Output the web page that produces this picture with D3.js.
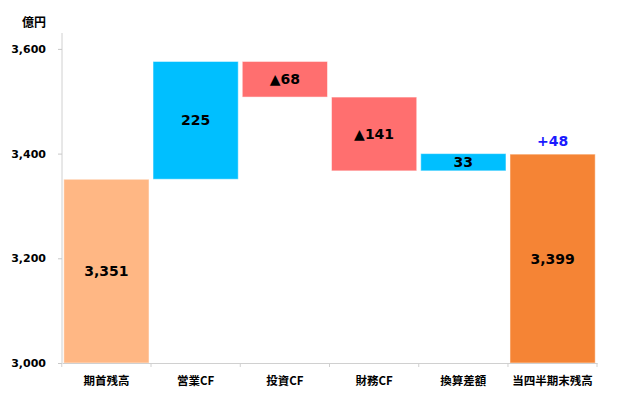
<!DOCTYPE html>
<html>
<head>
<meta charset="utf-8">
<script src="https://cdn.jsdelivr.net/npm/d3@7"></script>
<style>
body { margin: 0; background: #fff; }
svg { font-family: "DejaVu Sans", "Noto Sans CJK JP", sans-serif; }
</style>
</head>
<body>
<svg id="chart" width="617" height="403"></svg>
<script>
// waterfall data
const categories = ["期首残高", "営業CF", "投資CF", "財務CF", "換算差額", "当四半期末残高"];
const starts = [3000, 3351, 3576, 3508, 3367, 3000];
const ends = [3351, 3576, 3508, 3367, 3400, 3399];
const labels = ["3,351", "225", "▲68", "▲141", "33", "3,399"];
const colors = ["#FFB784", "#00BFFF", "#FF6F6F", "#FF6F6F", "#00BFFF", "#F58435"];
const yTicks = [3000, 3200, 3400, 3600];
const diffLabel = "+48";

let margin = {top: 30, right: 20, bottom: 40, left: 62};
let width = 617, height = 403;
let svg = d3.select("#chart");

let x = d3.scaleBand()
	.domain(categories)
	.range([margin.left, width - margin.right])
	.paddingInner(0.045)
	.paddingOuter(0.02);
let y = d3.scaleLinear()
	.domain([3000, 3660])
	.range([363, 363 - 660 * 0.5235]);

// y axis
let yAxis = svg.append("g")
	.attr("transform", `translate(${margin.left},0)`)
	.call(d3.axisLeft(y).tickValues(yTicks).tickSize(4).tickPadding(12).tickFormat(d3.format(",")))
	.attr("font-family", "DejaVu Sans");
yAxis.select(".domain").attr("stroke", "#d0d0d0").attr("d", `M0,${y(3000)}V33`);
yAxis.selectAll(".tick line").attr("stroke", "#c8c8c8");
yAxis.selectAll(".tick text")
	.attr("font-size", 11).attr("font-weight", "bold").attr("fill", "#000");

svg.append("text")
	.attr("x", 46).attr("y", 27)
	.attr("text-anchor", "end")
	.attr("font-family", "Noto Sans CJK JP")
	.attr("font-size", 12).attr("font-weight", "bold")
	.text("億円");

// bars
svg.append("g")
	.selectAll("rect")
	.data(categories)
	.join("rect")
	.attr("x", d => x(d))
	.attr("width", x.bandwidth())
	.attr("y", (d, i) => y(Math.max(starts[i], ends[i])))
	.attr("height", (d, i) => Math.abs(y(starts[i]) - y(ends[i])))
	.attr("fill", (d, i) => colors[i])
	.attr("stroke", "#fff")
	.attr("stroke-opacity", 0.5)
	.attr("stroke-width", 1);

// values
svg.append("g")
	.selectAll("text")
	.data(categories)
	.join("text")
	.attr("x", d => x(d) + x.bandwidth() / 2)
	.attr("y", (d, i) => (y(starts[i]) + y(ends[i])) / 2)
	.attr("dy", "0.36em")
	.attr("text-anchor", "middle")
	.attr("font-size", 14).attr("font-weight", "bold")
	.text((d, i) => labels[i]);

svg.append("text")
	.attr("x", x(categories[5]) + x.bandwidth() / 2)
	.attr("y", y(3400) - 8)
	.attr("text-anchor", "middle")
	.attr("font-size", 14).attr("font-weight", "bold")
	.attr("fill", "#1a1aff")
	.text(diffLabel);

// x axis
let xAxis = svg.append("g")
	.attr("transform", `translate(0,${y(3000)})`)
	.call(d3.axisBottom(x).tickSize(0).tickPadding(14))
	.attr("font-family", "Noto Sans CJK JP");
xAxis.select(".domain").attr("stroke", "#d0d0d0");
xAxis.selectAll(".tick text")
	.attr("font-size", 11.5).attr("font-weight", "bold").attr("fill", "#000");
let bounds = categories.map(d => x(d) - x.step() * x.paddingInner() / 2).concat([width - margin.right]);
xAxis.selectAll(".sep")
	.data(bounds)
	.join("line")
	.attr("x1", d => d).attr("x2", d => d)
	.attr("y1", 0).attr("y2", 4)
	.attr("stroke", "#d0d0d0");
</script>
</body>
</html>
